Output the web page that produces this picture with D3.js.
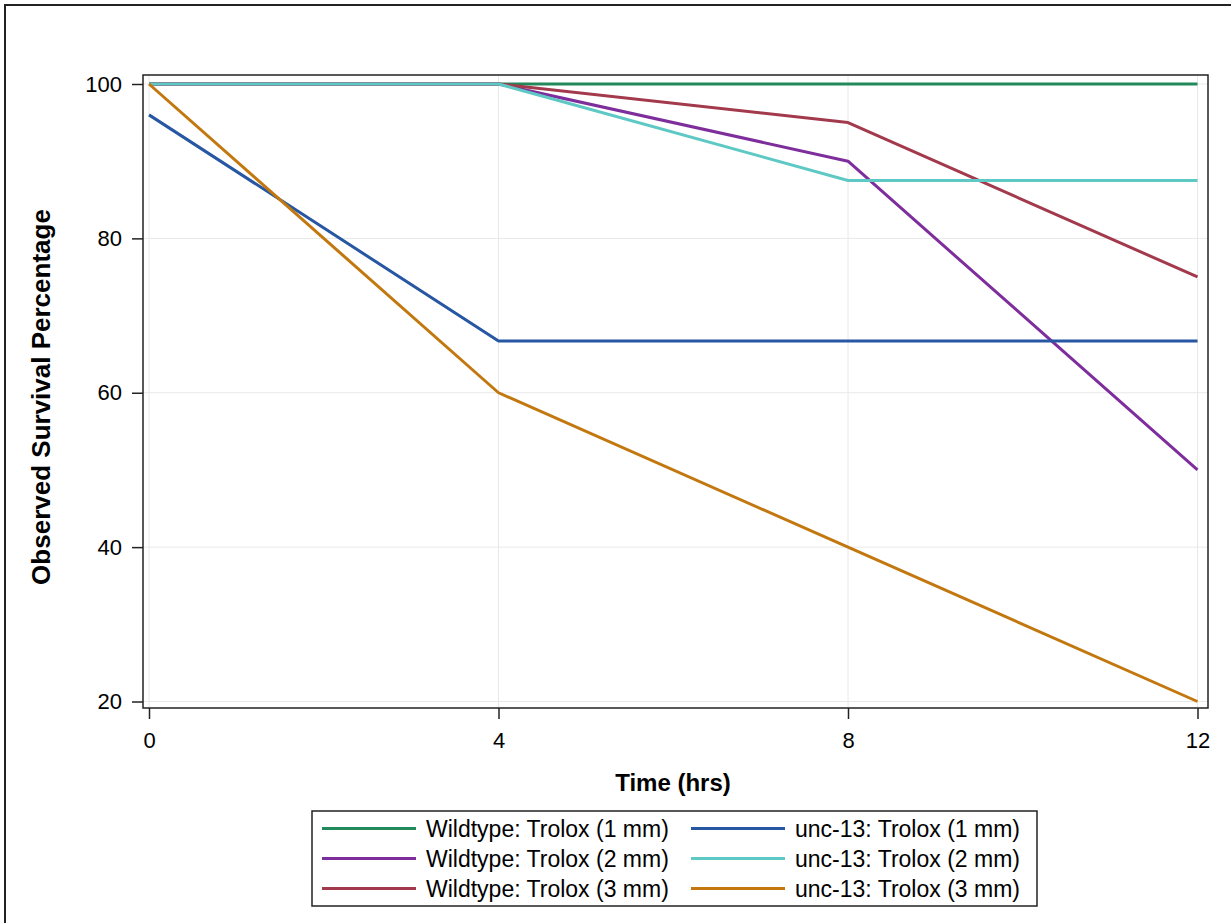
<!DOCTYPE html>
<html>
<head>
<meta charset="utf-8">
<script src="https://cdn.jsdelivr.net/npm/d3@7"></script>
<style>
  body { margin: 0; background: #fff; }
  svg text { font-family: "Liberation Sans", Arial, sans-serif; fill: #000; }
</style>
</head>
<body>
<svg id="chart" width="1231" height="923"></svg>
<script>
const times = [0, 4, 8, 12];
const xTicks = [0, 4, 8, 12];
const yTicks = [20, 40, 60, 80, 100];

const seriesNames = [
  "Wildtype: Trolox (1 mm)",
  "Wildtype: Trolox (2 mm)",
  "Wildtype: Trolox (3 mm)",
  "unc-13: Trolox (1 mm)",
  "unc-13: Trolox (2 mm)",
  "unc-13: Trolox (3 mm)"
];
const wt1 = [100, 100, 100, 100];
const wt2 = [100, 100, 90, 50];
const wt3 = [100, 100, 95, 75];
const unc1 = [96, 66.7, 66.7, 66.7];
const unc2 = [100, 100, 87.5, 87.5];
const unc3 = [100, 60, 40, 20];
const seriesValues = [wt1, wt2, wt3, unc1, unc2, unc3];
const colors = ["#21895a", "#7e2d9c", "#a3394c", "#2757a3", "#5ec9c4", "#c2780f"];

const SVG = d3.select("#chart");

// outer border (right/bottom run off the page)
SVG.append("rect")
  .attr("x", 5).attr("y", 5)
  .attr("width", 1260).attr("height", 950)
  .attr("fill", "none")
  .attr("stroke", "#222")
  .attr("stroke-width", 2);

const FRAME = { left: 143, top: 75, right: 1208, bottom: 708 };

const xScale = d3.scaleLinear().domain([0, 12]).range([149, 1197.5]);
const yScale = d3.scaleLinear().domain([20, 100]).range([701.5, 84]);

// grid
const grid = SVG.append("g").attr("id", "grid");
grid.selectAll("line.gx")
  .data(xTicks)
  .join("line")
  .attr("class", "gx")
  .attr("x1", (d) => xScale(d)).attr("x2", (d) => xScale(d))
  .attr("y1", FRAME.top).attr("y2", FRAME.bottom)
  .attr("stroke", "#e8e8e8").attr("stroke-width", 1);
grid.selectAll("line.gy")
  .data(yTicks)
  .join("line")
  .attr("class", "gy")
  .attr("x1", FRAME.left).attr("x2", FRAME.right)
  .attr("y1", (d) => yScale(d)).attr("y2", (d) => yScale(d))
  .attr("stroke", "#e8e8e8").attr("stroke-width", 1);

// series lines
const line = d3.line()
  .x((d, i) => xScale(times[i]))
  .y((d) => yScale(d));

SVG.append("g")
  .attr("id", "series")
  .selectAll("path")
  .data(seriesValues)
  .join("path")
  .attr("d", (d) => line(d))
  .attr("fill", "none")
  .attr("stroke", (d, i) => colors[i])
  .attr("stroke-width", 3)
  .attr("stroke-linejoin", "round");

// frame
SVG.append("rect")
  .attr("x", FRAME.left).attr("y", FRAME.top)
  .attr("width", FRAME.right - FRAME.left)
  .attr("height", FRAME.bottom - FRAME.top)
  .attr("fill", "none")
  .attr("stroke", "#222")
  .attr("stroke-width", 1.5);

// axes
const xAxis = SVG.append("g")
  .attr("transform", "translate(0," + FRAME.bottom + ")")
  .call(d3.axisBottom(xScale).tickValues(xTicks).tickSize(11).tickPadding(13).tickSizeOuter(0));
const yAxis = SVG.append("g")
  .attr("transform", "translate(" + FRAME.left + ",0)")
  .call(d3.axisLeft(yScale).tickValues(yTicks).tickSize(11).tickPadding(10).tickSizeOuter(0));
[xAxis, yAxis].forEach((ax) => {
  ax.select(".domain").remove();
  ax.selectAll(".tick line").attr("stroke", "#222").attr("stroke-width", 1.5);
  ax.selectAll(".tick text")
    .attr("font-family", "Liberation Sans, Arial, sans-serif")
    .attr("font-size", 22)
    .attr("fill", "#000");
});

// axis titles
SVG.append("text")
  .attr("x", 673).attr("y", 791)
  .attr("text-anchor", "middle")
  .attr("font-size", 24)
  .attr("font-weight", "bold")
  .text("Time (hrs)");
SVG.append("text")
  .attr("transform", "translate(50,397) rotate(-90)")
  .attr("text-anchor", "middle")
  .attr("font-size", 26)
  .attr("font-weight", "bold")
  .text("Observed Survival Percentage");

// legend
const legend = SVG.append("g").attr("id", "legend");
legend.append("rect")
  .attr("x", 312).attr("y", 811)
  .attr("width", 725).attr("height", 95)
  .attr("fill", "#fff")
  .attr("stroke", "#222")
  .attr("stroke-width", 1.5);

const colX = [322, 691];
const rowY = [828.5, 858.5, 888.5];
const items = legend.selectAll("g.item")
  .data(seriesNames)
  .join("g")
  .attr("class", "item")
  .attr("transform", (d, i) => {
    const col = i < 3 ? 0 : 1;
    const row = i % 3;
    return "translate(" + colX[col] + "," + rowY[row] + ")";
  });
items.append("line")
  .attr("x1", 0).attr("x2", 94)
  .attr("y1", 0).attr("y2", 0)
  .attr("stroke", (d, i) => colors[i])
  .attr("stroke-width", 3);
items.append("text")
  .attr("x", 104)
  .attr("y", 8)
  .attr("font-size", 23)
  .text((d) => d);
</script>
</body>
</html>
